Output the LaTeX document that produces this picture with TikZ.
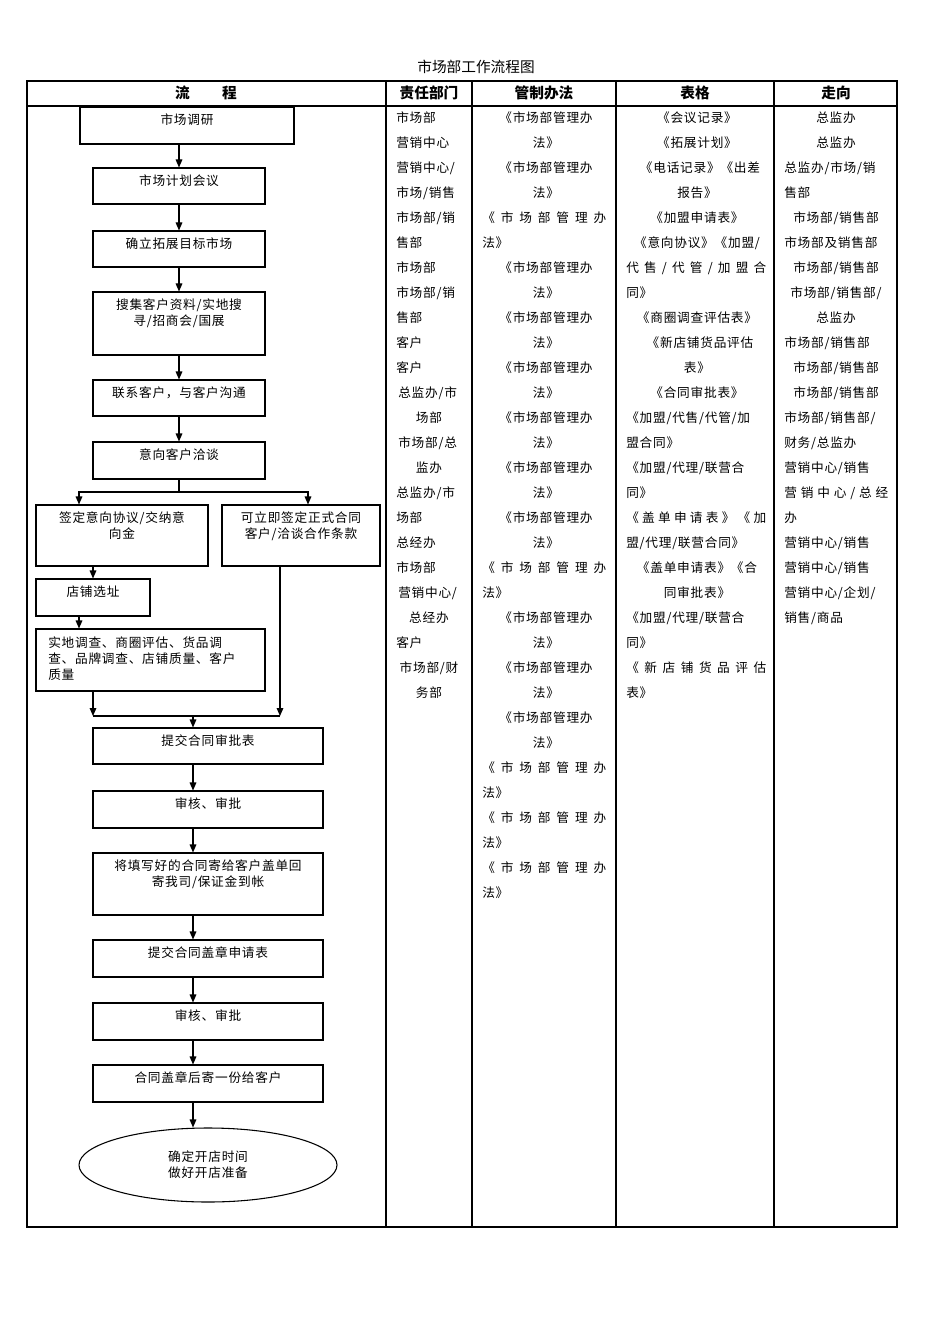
\documentclass[tikz,border=0pt]{standalone}
\usepackage{fontspec}
\setmainfont{Liberation Serif}
\newfontfamily\cjk[LetterSpace=6]{Noto Sans CJK SC}
\newfontfamily\cjkb{Noto Sans CJK SC}
\usetikzlibrary{arrows.meta,shapes.geometric,calc}
\newcommand\cL[3]{\node[cell,anchor=west] at (#1,118+25*#2) {#3};}
\newcommand\cC[3]{\node[cell] at (#1,118+25*#2) {#3};}
\newcommand\cS[4]{\node[cell,anchor=west] at (#1,118+25*#2) {\makebox[\dimexpr0.75pt*#3\relax][s]{#4}};}
\newcommand\flowbox[6]{\node[box,minimum width={(#4-#2)*0.75pt},minimum height={(#5-#3)*0.75pt}] (#1) at ({(#2+#4)/2},{(#3+#5)/2}) {};
\node[lbl] (#1t) at ($(#1.north)+(0,7)$) {#6};}
\begin{document}
\begin{tikzpicture}[x=0.75pt,y=-0.75pt,
 cell/.style={font=\cjk\fontsize{9.5}{11}\selectfont,inner sep=0pt},
 box/.style={draw,line width=0.8pt,inner sep=0pt},
 lbl/.style={anchor=north,align=center,font=\cjk\fontsize{9.5}{12}\selectfont,inner sep=0pt},
 hd/.style={font=\cjkb\bfseries\fontsize{11}{13}\selectfont,inner sep=0pt},
 arr/.style={-{Triangle[length=6pt,width=5pt]},line width=0.8pt},
 ln/.style={line width=0.8pt}]
\useasboundingbox (0,0) rectangle (950,1344);
% title and table
\node[font=\cjkb\fontsize{11}{13}\selectfont] (title) at (476,67) {市场部工作流程图};
\draw[line width=0.8pt] (27,81) rectangle (897,1227);
\draw[line width=0.8pt] (27,106) -- (897,106);
\foreach \x in {386,472,616,774} \draw[line width=0.8pt] (\x,81) -- (\x,1227);
\node[hd] (h1) at (206,93) {流\hspace{2.2em}程};
\node[hd] (h2) at (429,93) {责任部门};
\node[hd] (h3) at (544,93) {管制办法};
\node[hd] (h4) at (695,93) {表格};
\node[hd] (h5) at (836,93) {走向};
% column 2
\cL{396}{0}{市场部}\cL{396}{1}{营销中心}\cL{396}{2}{营销中心/}\cL{396}{3}{市场/销售}
\cL{396}{4}{市场部/销}\cL{396}{5}{售部}\cL{396}{6}{市场部}\cL{396}{7}{市场部/销}
\cL{396}{8}{售部}\cL{396}{9}{客户}\cL{396}{10}{客户}\cL{398}{11}{总监办/市}
\cC{429}{12}{场部}\cL{398}{13}{市场部/总}\cC{429}{14}{监办}\cL{396}{15}{总监办/市}
\cL{396}{16}{场部}\cL{396}{17}{总经办}\cL{396}{18}{市场部}\cL{398}{19}{营销中心/}
\cC{429}{20}{总经办}\cL{396}{21}{客户}\cC{429}{22}{市场部/财}\cC{429}{23}{务部}
% column 3
\foreach \k in {0,2,6,8,10,12,14,16,20,22,24} {\cC{546}{\k}{《市场部管理办}}
\foreach \k in {1,3,7,9,11,13,15,17,21,23,25} {\cC{546}{\k}{法》}}
\foreach \k in {4,18,26,28,30} {\cS{482}{\k}{124}{《 市 场 部 管 理 办}}
\foreach \k in {5,19,27,29,31} {\cL{482}{\k}{法》}}
% column 4
\cC{697}{0}{《会议记录》}\cC{697}{1}{《拓展计划》}\cC{700}{2}{《电话记录》《出差}
\cC{697}{3}{报告》}\cC{697}{4}{《加盟申请表》}\cC{697}{5}{《意向协议》《加盟/}
\cS{626}{6}{140}{代 售 / 代 管 / 加 盟 合}\cL{626}{7}{同》}
\cC{697}{8}{《商圈调查评估表》}\cC{700}{9}{《新店铺货品评估}\cC{697}{10}{表》}
\cC{697}{11}{《合同审批表》}\cS{626}{12}{140}{《加盟/代售/代管/加}\cL{626}{13}{盟合同》}
\cS{626}{14}{140}{《加盟/代理/联营合}\cL{626}{15}{同》}
\cS{626}{16}{140}{《 盖 单 申 请 表 》 《 加}\cL{626}{17}{盟/代理/联营合同》}
\cC{697}{18}{《盖单申请表》《合}\cC{697}{19}{同审批表》}
\cS{626}{20}{140}{《加盟/代理/联营合}\cL{626}{21}{同》}
\cS{626}{22}{140}{《 新 店 铺 货 品 评 估}\cL{626}{23}{表》}
% column 5
\cC{836}{0}{总监办}\cC{836}{1}{总监办}\cS{784}{2}{104}{总监办/市场/销}\cL{784}{3}{售部}
\cC{836}{4}{市场部/销售部}\cL{784}{5}{市场部及销售部}\cC{836}{6}{市场部/销售部}
\cC{836}{7}{市场部/销售部/}\cC{836}{8}{总监办}\cL{784}{9}{市场部/销售部}
\cC{836}{10}{市场部/销售部}\cC{836}{11}{市场部/销售部}\cS{784}{12}{104}{市场部/销售部/}
\cL{784}{13}{财务/总监办}\cL{784}{14}{营销中心/销售}\cS{784}{15}{104}{营 销 中 心 / 总 经}
\cL{784}{16}{办}\cL{784}{17}{营销中心/销售}\cL{784}{18}{营销中心/销售}
\cS{784}{19}{104}{营销中心/企划/}\cL{784}{20}{销售/商品}
% flow
\flowbox{b1}{80}{107}{294}{144}{市场调研}
\flowbox{b2}{93}{168}{265}{204}{市场计划会议}
\flowbox{b3}{93}{231}{265}{267}{确立拓展目标市场}
\flowbox{b4}{93}{292}{265}{355}{搜集客户资料/实地搜\\寻/招商会/国展}
\flowbox{b5}{93}{380}{265}{416}{联系客户，与客户沟通}
\flowbox{b6}{93}{442}{265}{479}{意向客户洽谈}
\flowbox{b7}{36}{505}{208}{566}{签定意向协议/交纳意\\向金}
\flowbox{b8}{222}{505}{380}{566}{可立即签定正式合同\\客户/洽谈合作条款}
\flowbox{b9}{36}{579}{150}{616}{店铺选址}
\node[box,minimum width={229*0.75pt},minimum height={62*0.75pt}] (b10) at (150.5,660) {};
\node[lbl,align=left,anchor=north west] (b10t) at (48,636) {实地调查、商圈评估、货品调\\查、品牌调查、店铺质量、客户\\质量};
\flowbox{b11}{93}{728}{323}{764}{提交合同审批表}
\flowbox{b12}{93}{791}{323}{828}{审核、审批}
\flowbox{b13}{93}{853}{323}{915}{将填写好的合同寄给客户盖单回\\寄我司/保证金到帐}
\flowbox{b14}{93}{940}{323}{977}{提交合同盖章申请表}
\flowbox{b15}{93}{1003}{323}{1040}{审核、审批}
\flowbox{b16}{93}{1065}{323}{1102}{合同盖章后寄一份给客户}
\node[draw,ellipse,line width=0.8pt,minimum width={258*0.75pt},minimum height={74*0.75pt},align=center,font=\cjk\fontsize{9.5}{12}\selectfont] (e) at (208,1165) {确定开店时间\\做好开店准备};
\coordinate (ax) at (179,0);
\coordinate (bx) at (193,0);
\coordinate (c79) at (79,0);
\coordinate (c93) at (93,0);
\coordinate (c280) at (280,0);
\coordinate (c308) at (308,0);
\draw[arr] (b1.south -| ax) -- (b2.north -| ax);
\draw[arr] (b2.south -| ax) -- (b3.north -| ax);
\draw[arr] (b3.south -| ax) -- (b4.north -| ax);
\draw[arr] (b4.south -| ax) -- (b5.north -| ax);
\draw[arr] (b5.south -| ax) -- (b6.north -| ax);
\coordinate (s) at (179,492);
\draw[ln] (b6.south -| ax) -- (s);
\draw[arr] (s) -| (b7.north -| c79);
\draw[arr] (s) -| (b8.north -| c308);
\draw[arr] (b7.south -| c93) -- (b9.north -| c93);
\draw[arr] (b9.south -| c79) -- (b10.north -| c79);
\coordinate (m) at (193,716);
\coordinate (jl) at (93,716);
\coordinate (jr) at (280,716);
\draw[arr] (b10.south -| c93) -- (jl);
\draw[arr] (b8.south -| c280) -- (jr);
\draw[ln] (jl) -- (jr);
\draw[arr] (m) -- (b11.north -| bx);
\draw[arr] (b11.south -| bx) -- (b12.north -| bx);
\draw[arr] (b12.south -| bx) -- (b13.north -| bx);
\draw[arr] (b13.south -| bx) -- (b14.north -| bx);
\draw[arr] (b14.south -| bx) -- (b15.north -| bx);
\draw[arr] (b15.south -| bx) -- (b16.north -| bx);
\draw[arr] (b16.south -| bx) -- (e.north -| bx);
\end{tikzpicture}
\end{document}
